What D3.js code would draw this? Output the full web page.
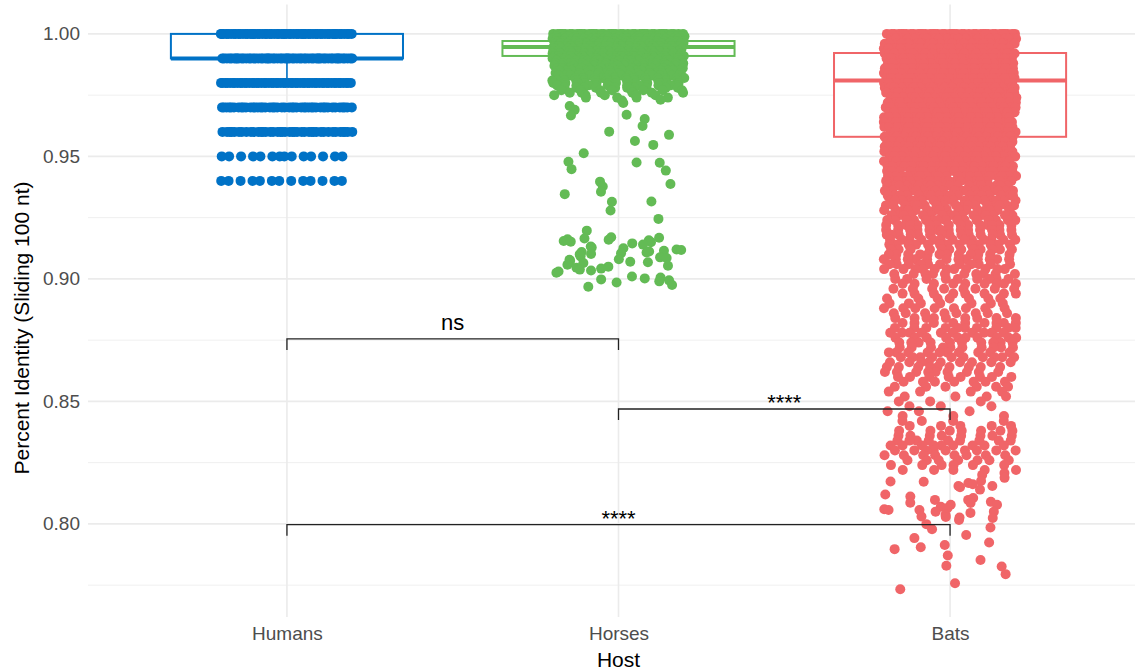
<!DOCTYPE html>
<html>
<head>
<meta charset="utf-8">
<script src="https://cdn.jsdelivr.net/npm/d3@7"></script>
<style>
  body { margin: 0; background: #fff; }
  svg text { font-family: "Liberation Sans", Arial, Helvetica, sans-serif; }
</style>
</head>
<body>
<script>
// ---- data ----
const hosts = ["Humans", "Horses", "Bats"];

// box statistics per host
const boxQ1 = [0.990, 0.991, 0.958];
const boxMedian = [0.990, 0.9947, 0.981];
const boxQ3 = [1.000, 0.9971, 0.9922];
const whiskerLow = [0.980, 0.982, 0.907];
const whiskerHigh = [1.000, 1.000, 1.000];

// humans: identity values are discrete, so levels + number of points on each
const humanLevels = [1.00, 0.99, 0.98, 0.97, 0.96, 0.95, 0.94];
const humanCounts = [60, 60, 55, 45, 40, 14, 13];

// horses: dense block near the top, then a sparse tail
const horseDenseLevels = [1.000, 0.999, 0.998, 0.997, 0.996, 0.995, 0.994, 0.993, 0.992, 0.991,
  0.990, 0.989, 0.988, 0.987, 0.986, 0.985, 0.984, 0.983, 0.982, 0.981,
  0.980, 0.979, 0.978, 0.977, 0.976, 0.975, 0.974];
const horseDenseCounts = [40, 30, 30, 30, 28, 28, 26, 26, 25, 25,
  24, 22, 20, 20, 18, 18, 16, 15, 14, 14,
  13, 12, 10, 8, 6, 5, 4];
const horseSparse = [0.9731, 0.9728, 0.9718, 0.9706, 0.9690, 0.9670, 0.9667, 0.9653, 0.9624, 0.9601,
  0.9588, 0.9563, 0.9547, 0.9513, 0.9478, 0.9475, 0.9474, 0.9448, 0.9442, 0.9397,
  0.9387, 0.9377, 0.9356, 0.9346, 0.9316, 0.9315, 0.9279, 0.9245, 0.9197,
  0.9170, 0.9168, 0.9165, 0.9162, 0.9160, 0.9158, 0.9155, 0.9152, 0.9150, 0.9145, 0.9140,
  0.9132, 0.9128, 0.9125, 0.9120, 0.9118, 0.9115, 0.9112, 0.9110, 0.9108, 0.9105, 0.9102, 0.9100,
  0.9092, 0.9088, 0.9085, 0.9080, 0.9078, 0.9074, 0.9070, 0.9068, 0.9065,
  0.9058, 0.9054, 0.9050, 0.9046, 0.9042, 0.9038, 0.9034, 0.9030, 0.9025,
  0.9010, 0.9006, 0.9002, 0.8998, 0.8994, 0.8990, 0.8985, 0.8975, 0.8968];

// bats: binned counts (0.002 wide) down to 0.822, then single points below
const batLevels = [1.000, 0.998, 0.996, 0.994, 0.992, 0.990, 0.988, 0.986, 0.984, 0.982,
  0.980, 0.978, 0.976, 0.974, 0.972, 0.970, 0.968, 0.966, 0.964, 0.962,
  0.960, 0.958, 0.956, 0.954, 0.952, 0.950, 0.948, 0.946, 0.944, 0.942,
  0.940, 0.938, 0.936, 0.934, 0.932, 0.930, 0.928, 0.926, 0.924, 0.922,
  0.920, 0.918, 0.916, 0.914, 0.912, 0.910, 0.908, 0.906, 0.904, 0.902,
  0.900, 0.898, 0.896, 0.894, 0.892, 0.890, 0.888, 0.886, 0.884, 0.882,
  0.880, 0.878, 0.876, 0.874, 0.872, 0.870, 0.868, 0.866, 0.864, 0.862,
  0.860, 0.858, 0.856, 0.854, 0.852, 0.850, 0.848, 0.846, 0.844, 0.842,
  0.840, 0.838, 0.836, 0.834, 0.832, 0.830, 0.828, 0.826, 0.824, 0.822];
const batCounts = [40, 30, 30, 30, 30, 30, 30, 30, 30, 30,
  30, 30, 30, 28, 28, 28, 28, 28, 28, 28,
  28, 28, 26, 26, 26, 24, 22, 22, 20, 20,
  20, 19, 19, 18, 18, 17, 16, 16, 15, 15,
  14, 14, 13, 13, 12, 12, 12, 11, 11, 10,
  9, 9, 8, 8, 7, 7, 8, 8, 9, 9,
  10, 10, 10, 10, 10, 10, 10, 9, 9, 9,
  8, 7, 6, 4, 4, 3, 3, 3, 3, 4,
  5, 7, 8, 9, 9, 9, 8, 7, 6, 5];
const batSparse = [0.8208, 0.8200, 0.8188, 0.8175, 0.8173, 0.8172, 0.8167, 0.8162, 0.8155, 0.8155,
  0.8150, 0.8140, 0.8120, 0.8112, 0.8106, 0.8098, 0.8098, 0.8090, 0.8086, 0.8085,
  0.8078, 0.8078, 0.8070, 0.8065, 0.8060, 0.8057, 0.8057, 0.8050, 0.8050, 0.8045,
  0.8037, 0.8030, 0.8028, 0.8026, 0.8024, 0.8016,
  0.7999, 0.7985, 0.7978, 0.7955, 0.7942, 0.7924, 0.7914, 0.7905, 0.7897, 0.7871,
  0.7853, 0.7829, 0.7826, 0.7795, 0.7758, 0.7733];

// significance brackets
const bracketFrom = ["Humans", "Horses", "Humans"];
const bracketTo = ["Horses", "Bats", "Bats"];
const bracketY = [0.8755, 0.8469, 0.7997];
const bracketLabel = ["ns", "****", "****"];

const majorTicks = [0.80, 0.85, 0.90, 0.95, 1.00];
const minorTicks = [0.775, 0.825, 0.875, 0.925, 0.975];

// ---- chart ----
const width = 1135;
const height = 671;
const colors = ["#0072C6", "#63BB55", "#F06568"];

const x = d3.scalePoint().domain(hosts).range([88, 1149]).padding(0.6);
const y = d3.scaleLinear().domain([0.762, 1.012]).range([617, 4.5]);
const color = d3.scaleOrdinal().domain(hosts).range(colors);

const svg = d3.select("body").append("svg")
  .attr("width", width)
  .attr("height", height);

// grid
const grid = svg.append("g");
grid.selectAll("line.minor")
  .data(minorTicks)
  .join("line")
  .attr("x1", 88).attr("x2", 1149)
  .attr("y1", d => y(d)).attr("y2", d => y(d))
  .attr("stroke", "#ebebeb").attr("stroke-width", 0.8);
grid.selectAll("line.major")
  .data(majorTicks)
  .join("line")
  .attr("x1", 88).attr("x2", 1149)
  .attr("y1", d => y(d)).attr("y2", d => y(d))
  .attr("stroke", "#ebebeb").attr("stroke-width", 1.6);
grid.selectAll("line.vert")
  .data(hosts)
  .join("line")
  .attr("x1", d => x(d)).attr("x2", d => x(d))
  .attr("y1", 4.5).attr("y2", 617)
  .attr("stroke", "#ebebeb").attr("stroke-width", 1.6);

// axes (labels only)
const yAxis = svg.append("g")
  .attr("transform", "translate(88,0)")
  .call(d3.axisLeft(y).tickValues(majorTicks).tickFormat(d3.format(".2f")).tickSize(0).tickPadding(8));
const xAxis = svg.append("g")
  .attr("transform", "translate(0,617)")
  .call(d3.axisBottom(x).tickSize(0).tickPadding(10));
[yAxis, xAxis].forEach(a => {
  a.select(".domain").remove();
  a.selectAll("text")
    .attr("fill", "#4d4d4d")
    .style("font-size", "19px")
    .style("font-family", "'Liberation Sans', Arial, sans-serif");
});

// boxes (drawn under the points)
const bw = 0.35 * x.step();
const boxes = svg.append("g")
  .selectAll("g")
  .data(hosts)
  .join("g")
  .attr("stroke", d => color(d))
  .attr("fill", "none");
boxes.append("line")
  .attr("x1", d => x(d)).attr("x2", d => x(d))
  .attr("y1", (d, i) => y(boxQ1[i])).attr("y2", (d, i) => y(whiskerLow[i]))
  .attr("stroke-width", 1.6);
boxes.append("line")
  .attr("x1", d => x(d)).attr("x2", d => x(d))
  .attr("y1", (d, i) => y(boxQ3[i])).attr("y2", (d, i) => y(whiskerHigh[i]))
  .attr("stroke-width", 1.6);
boxes.append("rect")
  .attr("x", d => x(d) - bw)
  .attr("width", 2 * bw)
  .attr("y", (d, i) => y(boxQ3[i]))
  .attr("height", (d, i) => y(boxQ1[i]) - y(boxQ3[i]))
  .attr("fill", "#fff")
  .attr("stroke-width", 2);
boxes.append("line")
  .attr("x1", d => x(d) - bw).attr("x2", d => x(d) + bw)
  .attr("y1", (d, i) => y(boxMedian[i])).attr("y2", (d, i) => y(boxMedian[i]))
  .attr("stroke-width", 4);

// jittered points
// each entry: value, index of its level, and its rank within that level
function expand(levels, counts) {
  const out = [];
  levels.forEach((v, lev) => {
    for (let k = 0; k < counts[lev]; k++) out.push({ value: v, lev: lev, k: k });
  });
  return out;
}
function single(values, levStart) {
  return values.map((v, j) => ({ value: v, lev: levStart + j, k: 0 }));
}
// fixed integer hash -> [0, 1), used only for the horizontal jitter offset
function hash01(n) {
  n = Math.imul(n ^ (n >>> 16), 0x45d9f3b);
  n = Math.imul(n ^ (n >>> 16), 0x45d9f3b);
  n ^= n >>> 16;
  return (n >>> 0) / 4294967296;
}
const groupValues = [
  expand(humanLevels, humanCounts),
  expand(horseDenseLevels, horseDenseCounts).concat(single(horseSparse, 1000)),
  expand(batLevels, batCounts).concat(single(batSparse, 1000))
];
const points = [];
groupValues.forEach((vals, g) => {
  vals.forEach(p => {
    // rows are spread evenly (golden-ratio steps) from a level-specific start
    const u = (hash01(p.lev * 7919 + g * 104729 + 17) + p.k * 0.6180339887) % 1;
    points.push({ host: hosts[g], value: p.value, jit: (u * 2 - 1) * 0.2 });
  });
});
svg.append("g")
  .selectAll("circle")
  .data(points)
  .join("circle")
  .attr("cx", d => x(d.host) + d.jit * x.step())
  .attr("cy", d => y(d.value))
  .attr("r", 5)
  .attr("fill", d => color(d.host));

// brackets
const br = svg.append("g");
bracketY.forEach((v, i) => {
  const x1 = x(bracketFrom[i]);
  const x2 = x(bracketTo[i]);
  const yy = y(v);
  br.append("path")
    .attr("d", `M${x1},${yy + 11}V${yy}H${x2}V${yy + 11}`)
    .attr("fill", "none")
    .attr("stroke", "#222")
    .attr("stroke-width", 1.3);
  br.append("text")
    .attr("x", (x1 + x2) / 2)
    .attr("y", bracketLabel[i] === "ns" ? yy - 9 : yy + 1)
    .attr("text-anchor", "middle")
    .attr("fill", "#000")
    .style("font-size", "22px")
    .text(bracketLabel[i]);
});

// axis titles
svg.append("text")
  .attr("transform", "translate(29,328) rotate(-90)")
  .attr("text-anchor", "middle")
  .style("font-size", "21px")
  .text("Percent Identity (Sliding 100 nt)");
svg.append("text")
  .attr("x", (88 + 1149) / 2)
  .attr("y", 667)
  .attr("text-anchor", "middle")
  .style("font-size", "21px")
  .text("Host");
</script>
</body>
</html>
